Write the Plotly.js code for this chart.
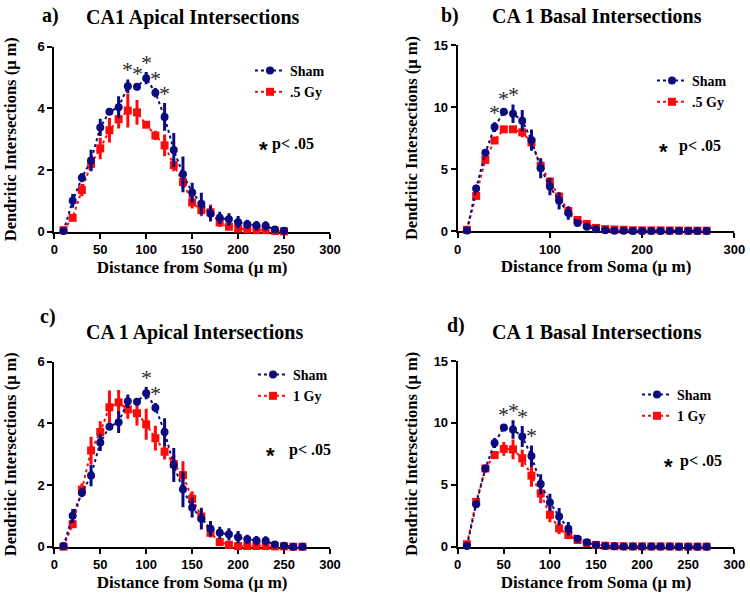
<!DOCTYPE html>
<html><head><meta charset="utf-8">
<script src="https://cdn.plot.ly/plotly-3.0.1.min.js"></script>
<style>html,body{margin:0;padding:0;background:#fff}#chart{width:750px;height:599px}</style>
</head><body><div id="chart"></div>
<script>
// ---------- data ----------
const distance = [10,20,30,40,50,60,70,80,90,100,110,120,130,140,150,160,170,180,190,200,210,220,230,240,250,260,270];

// Apical (panels a and c)
const shamApical    = [0.02,1.0,1.75,2.31,3.38,3.89,4.04,4.72,4.7,4.98,4.51,3.72,2.65,1.86,1.27,0.91,0.58,0.45,0.4,0.31,0.24,0.2,0.19,0.07,0.03,0.0,0.0];
const shamApicalErr = [0.03,0.22,0.15,0.35,0.28,0.1,0.35,0.22,0.12,0.2,0.15,0.45,0.55,0.58,0.32,0.35,0.25,0.2,0.2,0.2,0.15,0.15,0.15,0.05,0.03,0.02,0.02];
const halfGyApical    = [0.05,0.45,1.35,2.2,2.7,3.29,3.65,3.93,3.87,3.47,3.12,2.8,2.16,1.61,0.95,0.7,0.63,0.3,0.16,0.1,0.07,0.05,0.05,0.02,0.01];
const halfGyApicalErr = [0.05,0.08,0.2,0.2,0.35,0.4,0.3,0.55,0.4,0.05,0.15,0.35,0.2,0.2,0.2,0.2,0.25,0.15,0.1,0.08,0.07,0.05,0.05,0.02,0.01];
const oneGyApical    = [0.0,0.73,1.85,3.12,3.72,4.52,4.68,4.45,4.33,3.97,3.52,3.08,2.68,2.32,1.55,0.98,0.45,0.15,0.06,0.02,0.02,0.02,0.02,0.01,0.01,0.0,0.0];
const oneGyApicalErr = [0.02,0.1,0.2,0.45,0.35,0.55,0.4,0.3,0.4,0.5,0.4,0.25,0.3,0.45,0.25,0.2,0.15,0.1,0.05,0.03,0.02,0.02,0.02,0.01,0.01,0.01,0.01];

// Basal (panels b and d)
const shamBasal    = [0.05,3.43,6.32,8.38,9.62,9.46,8.9,7.33,5.06,3.58,2.43,1.45,0.65,0.35,0.14,0.06,0.03,0.02,0.01,0.01,0.01,0.01,0.01,0.0,0.0,0.0,0.0];
const shamBasalErr = [0.05,0.3,0.25,0.4,0.3,0.75,0.85,0.85,0.8,0.7,0.7,0.55,0.2,0.15,0.1,0.05,0.03,0.02,0.01,0.01,0.01,0.01,0.01,0.01,0.01,0.01,0.01];
const halfGyBasal    = [0.1,2.83,5.74,7.3,8.2,8.2,7.96,7.15,5.27,3.99,2.78,1.61,0.89,0.57,0.25,0.15,0.12,0.1,0.06,0.05,0.05,0.05,0.04,0.04,0.03,0.03,0.03];
const halfGyBasalErr = [0.1,0.3,0.3,0.2,0.2,0.25,0.4,0.5,0.4,0.3,0.3,0.3,0.15,0.15,0.1,0.05,0.05,0.05,0.03,0.03,0.03,0.03,0.02,0.02,0.02,0.02,0.02];
const oneGyBasal    = [0.2,3.62,6.32,7.4,7.9,7.86,7.14,5.74,4.3,2.58,1.48,0.94,0.54,0.28,0.15,0.08,0.04,0.03,0.02,0.02,0.02,0.02,0.02,0.01,0.01,0.01,0.01];
const oneGyBasalErr = [0.1,0.3,0.3,0.3,0.55,0.8,0.7,0.9,0.8,0.6,0.45,0.3,0.15,0.1,0.05,0.05,0.03,0.02,0.02,0.02,0.02,0.02,0.02,0.01,0.01,0.01,0.01];

// significant distances (p < .05)
const sigA = [80,90,100,110,120];
const sigB = [40,50,60];
const sigC = [100,110];
const sigD = [50,60,70,80];

const panelTitles = ['CA1 Apical Intersections','CA 1 Basal Intersections','CA 1 Apical Intersections','CA 1 Basal Intersections'];
const panelLetters = ['a)','b)','c)','d)'];
const seriesNames = ['Sham','.5 Gy','1 Gy'];
const xTitle = 'Distance from Soma (\u03bc m)';
const yTitle = 'Dendritic Intersections (\u03bc m)';

// ---------- styling ----------
const NAVY = '#0b0b80', RED = '#ff0a0a';
const SERIF = 'Liberation Serif', SANS = 'Liberation Sans';
const W = 750, H = 599;
const px = v => v / W, py = v => 1 - v / H;

function series(name, x, y, err, n, color, symbol, legend, rank) {
  return {
    type: 'scatter', mode: 'lines+markers', name: name,
    x: x.slice(0, y.length), y: y, xaxis: 'x' + n, yaxis: 'y' + n,
    legend: legend, legendrank: rank, cliponaxis: false,
    line: {color: color, width: 2, dash: 'dot'},
    marker: {color: color, symbol: symbol, size: 8},
    error_y: {type: 'data', array: err, visible: true, color: color, thickness: 3, width: 0}
  };
}

const panels = [
  {n: '',  sham: shamApical.slice(0,25), shamErr: shamApicalErr.slice(0,25), gy: halfGyApical, gyErr: halfGyApicalErr, gyName: seriesNames[1], sig: sigA, legend: 'legend'},
  {n: '2', sham: shamBasal, shamErr: shamBasalErr, gy: halfGyBasal, gyErr: halfGyBasalErr, gyName: seriesNames[1], sig: sigB, legend: 'legend2'},
  {n: '3', sham: shamApical, shamErr: shamApicalErr, gy: oneGyApical, gyErr: oneGyApicalErr, gyName: seriesNames[2], sig: sigC, legend: 'legend3'},
  {n: '4', sham: shamBasal, shamErr: shamBasalErr, gy: oneGyBasal, gyErr: oneGyBasalErr, gyName: seriesNames[2], sig: sigD, legend: 'legend4'}
];

const traces = [];
const annotations = [];
panels.forEach((p, k) => {
  traces.push(series(p.gyName, distance, p.gy, p.gyErr, p.n, RED, 'square', p.legend, 2));
  traces.push(series(seriesNames[0], distance, p.sham, p.shamErr, p.n, NAVY, 'circle', p.legend, 1));
  p.sig.forEach(d => {
    const i = distance.indexOf(d);
    annotations.push({xref: 'x' + p.n, yref: 'y' + p.n, x: d, y: p.sham[i] + p.shamErr[i],
      text: '*', showarrow: false, yanchor: 'bottom', yshift: -5,
      font: {family: SERIF, size: 22, color: '#2a2a2a'}});
  });
});

// geometry (pixels)
const geo = [
  {x0: 54.3, x1: 330, yb: 231.7, yt: 46.7, tx: 193, ty: 17, lx: 50, ly: 15, legX: 250, legY: 55, pAst: 257, pTxt: 270, pY: 144, ystand: 17},
  {x0: 457.7, x1: 734.3, yb: 231, yt: 45, tx: 596.7, ty: 16, lx: 450, ly: 15.5, legX: 652, legY: 65, pAst: 657, pTxt: 677, pY: 146, ystand: 12},
  {x0: 54.3, x1: 330, yb: 546.7, yt: 361.7, tx: 194, ty: 332, lx: 48.3, ly: 316.7, legX: 253, legY: 359, pAst: 264, pTxt: 287, pY: 450, ystand: 17},
  {x0: 457.7, x1: 734.3, yb: 546.7, yt: 361, tx: 596.7, ty: 332, lx: 456, ly: 325, legX: 637, legY: 379, pAst: 662, pTxt: 678, pY: 461, ystand: 12}
];
const yMax = [6, 15, 6, 15], yDtick = [2, 5, 2, 5], xDtick = [50, 100, 50, 50];

const layout = {
  width: W, height: H, margin: {l: 0, r: 0, t: 0, b: 0},
  paper_bgcolor: '#fff', plot_bgcolor: '#fff', annotations: annotations
};

geo.forEach((g, k) => {
  const n = panels[k].n;
  const axBase = {showline: true, linewidth: 2, linecolor: '#000', ticks: 'outside', ticklen: 5, tickwidth: 2,
    tickcolor: '#000', showgrid: false, zeroline: false, layer: 'below traces', fixedrange: true,
    tickfont: {family: SANS, size: 13, weight: 'bold', color: '#000'}};
  layout['xaxis' + n] = Object.assign({}, axBase, {domain: [px(g.x0), px(g.x1)], range: [0, 300], dtick: xDtick[k], tick0: 0,
    anchor: 'y' + n, title: {text: xTitle, standoff: 5, font: {family: SERIF, size: 17, weight: 'bold', color: '#000'}}});
  layout['yaxis' + n] = Object.assign({}, axBase, {domain: [py(g.yb), py(g.yt)], range: [0, yMax[k]], dtick: yDtick[k], tick0: 0,
    anchor: 'x' + n, title: {text: yTitle, standoff: g.ystand, font: {family: SERIF, size: 16.5, weight: 'bold', color: '#000'}}});
  layout[panels[k].legend] = {x: px(g.legX), y: py(g.legY), xanchor: 'left', yanchor: 'top', bgcolor: 'rgba(0,0,0,0)',
    font: {family: SERIF, size: 14, weight: 'bold', color: '#000'}, itemwidth: 30, tracegroupgap: 0};
  annotations.push({xref: 'paper', yref: 'paper', x: px(g.tx), y: py(g.ty), text: '<b>' + panelTitles[k] + '</b>',
    showarrow: false, xanchor: 'center', yanchor: 'middle', font: {family: SERIF, size: 20, color: '#000'}});
  annotations.push({xref: 'paper', yref: 'paper', x: px(g.lx), y: py(g.ly), text: '<b>' + panelLetters[k] + '</b>',
    showarrow: false, xanchor: 'center', yanchor: 'middle', font: {family: SERIF, size: 20, color: '#000'}});
  annotations.push({xref: 'paper', yref: 'paper', x: px(g.pAst), y: py(g.pY), text: '<b>*</b>',
    showarrow: false, xanchor: 'left', yanchor: 'middle', yshift: -5, font: {family: SANS, size: 22, color: '#000'}});
  annotations.push({xref: 'paper', yref: 'paper', x: px(g.pTxt), y: py(g.pY), text: '<b>p&lt; .05</b>',
    showarrow: false, xanchor: 'left', yanchor: 'middle', font: {family: SERIF, size: 16, color: '#000'}});
});

Plotly.newPlot('chart', traces, layout, {displayModeBar: false, staticPlot: true});
</script>
</body></html>
